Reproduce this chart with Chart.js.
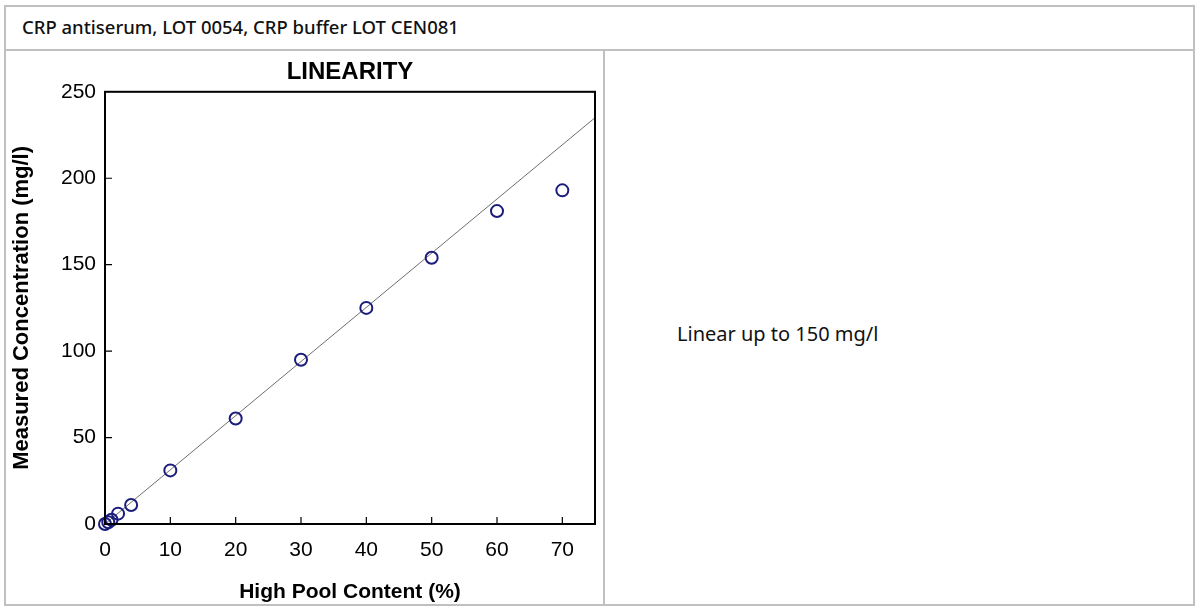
<!DOCTYPE html>
<html>
<head>
<meta charset="utf-8">
<script src="https://cdn.jsdelivr.net/npm/chart.js@4.4.1/dist/chart.umd.min.js"></script>
<style>
  html, body { margin: 0; padding: 0; background: #ffffff; }
  body { width: 1196px; height: 608px; position: relative; overflow: hidden; }
  .frame { position: absolute; left: 4px; top: 5px; width: 1191px; height: 601px; border: 2px solid #c0c0c0; box-sizing: border-box; }
  .hline { position: absolute; left: 4px; top: 49px; width: 1191px; height: 2px; background: #c0c0c0; }
  .vline { position: absolute; left: 603px; top: 50px; width: 2px; height: 556px; background: #c0c0c0; }
  .header { position: absolute; left: 22px; top: 14px; font-family: "Noto Sans", "Open Sans", sans-serif; font-size: 18.5px; font-weight: 500; color: #111; white-space: nowrap; }
  .note { position: absolute; left: 677px; top: 320px; font-family: "Noto Sans", "Open Sans", sans-serif; font-size: 20px; color: #111; white-space: nowrap; }
  .chartbox { position: absolute; left: 6px; top: 52px; width: 597px; height: 553px; }
</style>
</head>
<body>
<div class="frame"></div>
<div class="hline"></div>
<div class="vline"></div>
<div class="header">CRP antiserum, LOT 0054, CRP buffer LOT CEN081</div>
<div class="note">Linear up to 150 mg/l</div>
<div class="chartbox"><canvas id="c"></canvas></div>
<script>
// ---- data ----
const poolContent = [0, 0.5, 1, 2, 4, 10, 20, 30, 40, 50, 60, 70];          // High Pool Content (%)
const measuredConc = [0, 1, 2.5, 6, 11, 31, 61, 95, 125, 154, 181, 193];   // Measured Concentration (mg/l)
const trendX = [0, 75];
const trendY = [0, 235];
const xTickValues = [0, 10, 20, 30, 40, 50, 60, 70];
const yTickValues = [0, 50, 100, 150, 200, 250];
const chartTitle = 'LINEARITY';
const xTitle = 'High Pool Content (%)';
const yTitle = 'Measured Concentration (mg/l)';

const FONT = '"Liberation Sans", Arial, sans-serif';

const framePlugin = {
  id: 'framePlugin',
  afterDatasetsDraw(chart) {
    const { ctx, chartArea: a, scales } = chart;
    ctx.save();
    ctx.strokeStyle = '#000';
    ctx.lineWidth = 2;
    ctx.strokeRect(a.left, a.top, a.right - a.left, a.bottom - a.top);
    ctx.lineWidth = 1.2;
    ctx.beginPath();
    scales.x.ticks.forEach(t => {
      const px = scales.x.getPixelForValue(t.value);
      if (px <= a.left + 1 || px >= a.right - 1) return;
      ctx.moveTo(px, a.bottom);
      ctx.lineTo(px, a.bottom - 7);
    });
    scales.y.ticks.forEach(t => {
      const py = scales.y.getPixelForValue(t.value);
      if (py <= a.top + 1 || py >= a.bottom - 1) return;
      ctx.moveTo(a.left, py);
      ctx.lineTo(a.left + 7, py);
    });
    ctx.stroke();
    ctx.restore();
  }
};

new Chart(document.getElementById('c'), {
  type: 'scatter',
  data: {
    datasets: [
      {
        label: 'Trend',
        type: 'line',
        data: trendX.map((x, i) => ({ x, y: trendY[i] })),
        borderColor: '#6e6e6e',
        borderWidth: 1,
        pointRadius: 0,
        fill: false,
        order: 2
      },
      {
        label: 'Measured',
        data: poolContent.map((x, i) => ({ x, y: measuredConc[i] })),
        pointStyle: 'circle',
        pointRadius: 6,
        pointBorderWidth: 2,
        borderColor: '#1c1c7c',
        backgroundColor: 'rgba(0,0,0,0)',
        clip: false,
        order: 1
      }
    ]
  },
  options: {
    responsive: true,
    maintainAspectRatio: false,
    animation: false,
    devicePixelRatio: 1,
    layout: { padding: { left: 0, right: 8, top: 0, bottom: 0 } },
    plugins: {
      legend: { display: false },
      tooltip: { enabled: false },
      title: {
        display: true,
        text: chartTitle,
        fullSize: false,
        color: '#000',
        font: { family: FONT, size: 24, weight: 'bold' },
        padding: { top: 6, bottom: 5 }
      }
    },
    scales: {
      x: {
        type: 'linear',
        min: 0,
        max: 75,
        afterBuildTicks: s => { s.ticks = xTickValues.map(v => ({ value: v })); },
        afterFit: s => { s.height = 81; },
        grid: { display: false, drawTicks: false },
        border: { display: false },
        ticks: { color: '#000', font: { family: FONT, size: 21 }, padding: 14, maxRotation: 0 },
        title: { display: true, text: xTitle, color: '#000', font: { family: FONT, size: 21, weight: 'bold' }, padding: { top: 0, bottom: 0 } }
      },
      y: {
        type: 'linear',
        min: 0,
        max: 250,
        afterBuildTicks: s => { s.ticks = yTickValues.map(v => ({ value: v })); },
        afterFit: s => { s.width = 99; },
        grid: { display: false, drawTicks: false },
        border: { display: false },
        ticks: { color: '#000', font: { family: FONT, size: 21 }, padding: 9 },
        title: { display: true, text: yTitle, color: '#000', font: { family: FONT, size: 22, weight: 'bold' }, padding: { top: 3, bottom: 0 } }
      }
    }
  },
  plugins: [framePlugin]
});
</script>
</body>
</html>
